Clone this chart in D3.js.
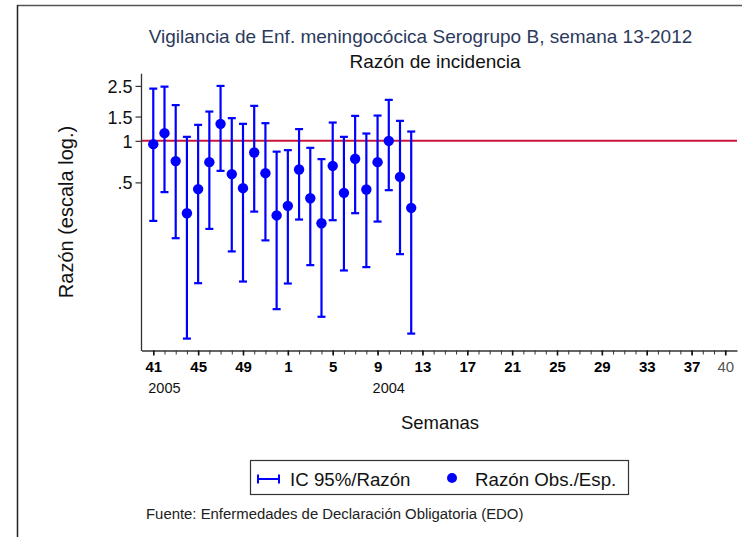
<!DOCTYPE html>
<html>
<head>
<meta charset="utf-8">
<script src="https://cdn.jsdelivr.net/npm/d3@7"></script>
<style>
  html, body { margin: 0; padding: 0; background: #fff; }
  svg { display: block; font-family: "Liberation Sans", Arial, Helvetica, sans-serif; }
</style>
</head>
<body>
<svg id="chart" width="742" height="537"></svg>
<script>
// ---- data ----
const weeks  = [41,42,43,44,45,46,47,48,49,50,51,52,1,2,3,4,5,6,7,8,9,10,11,12];
const ratio  = [0.946,1.137,0.713,0.299,0.447,0.701,1.328,0.574,0.454,0.823,0.583,0.288,
                0.338,0.620,0.384,0.253,0.659,0.420,0.741,0.444,0.701,1.000,0.548,0.327];
const lower  = [0.263,0.425,0.197,0.0369,0.093,0.230,0.606,0.158,0.0956,0.307,0.190,0.0603,
                0.0925,0.269,0.1257,0.0531,0.266,0.115,0.299,0.1216,0.260,0.439,0.151,0.0401];
const upper  = [2.39,2.47,1.815,1.069,1.306,1.63,2.50,1.46,1.328,1.793,1.343,0.835,
                0.856,1.216,0.890,0.737,1.357,1.069,1.517,1.13,1.525,1.982,1.396,1.168];
const axisWeeks = [41,42,43,44,45,46,47,48,49,50,51,52,1,2,3,4,5,6,7,8,9,10,11,12,13,14,15,16,17,18,19,20,
                   21,22,23,24,25,26,27,28,29,30,31,32,33,34,35,36,37,38,39,40];
const tickLabels = ["41","45","49","1","5","9","13","17","21","25","29","33","37","40"];
const yTicks = [0.5, 1, 1.5, 2.5];
const yTickLabels = [".5", "1", "1.5", "2.5"];
const yearLabels = [{week: 41, text: "2005"}, {week: 9, text: "2004"}];
const refValue = 1;

const title = "Vigilancia de Enf. meningocócica Serogrupo B, semana 13-2012";
const subtitle = "Razón de incidencia";
const yTitle = "Razón (escala log.)";
const xTitle = "Semanas";
const legendItems = ["IC 95%/Razón", "Razón Obs./Esp."];
const source = "Fuente: Enfermedades de Declaración Obligatoria (EDO)";

// ---- layout ----
const svg = d3.select("#chart");
const idxOf = w => axisWeeks.indexOf(w);

const x = d3.scaleLinear().domain([-1.05, axisWeeks.length - 1 + 1.05]).range([141.5, 737]);
const y = d3.scaleLog().domain([0.03, 3]).range([351, 75]);

// frame
svg.append("line").attr("x1", 17).attr("x2", 742).attr("y1", 5.5).attr("y2", 5.5)
  .attr("stroke", "#555").attr("stroke-width", 1.5);
svg.append("line").attr("x1", 17.5).attr("x2", 17.5).attr("y1", 5).attr("y2", 537)
  .attr("stroke", "#222").attr("stroke-width", 1.5);

// titles
svg.append("text").attr("x", 420.5).attr("y", 43).attr("text-anchor", "middle")
  .attr("font-size", 19).attr("fill", "#2b3a5c").text(title);
svg.append("text").attr("x", 435).attr("y", 67.5).attr("text-anchor", "middle")
  .attr("font-size", 19).attr("fill", "#111").text(subtitle);

// reference line
svg.append("line").attr("x1", 141.5).attr("x2", 737)
  .attr("y1", y(refValue)).attr("y2", y(refValue))
  .attr("stroke", "#c8143c").attr("stroke-width", 2);

// y axis
const yAxis = d3.axisLeft(y).tickValues(yTicks)
  .tickFormat((d, i) => yTickLabels[i]).tickSize(6).tickSizeOuter(0);
const gy = svg.append("g").attr("transform", "translate(141.5,0)").call(yAxis);
gy.select(".domain").attr("stroke", "#333").attr("stroke-width", 1.3).attr("d", `M0,${y(3.06)}V351`);
gy.selectAll(".tick line").attr("stroke", "#333").attr("stroke-width", 1.2);
gy.selectAll(".tick text").attr("font-size", 18).attr("fill", "#111")
  .attr("font-family", "Liberation Sans, Arial, sans-serif").attr("x", -9).attr("dy", "0.36em");

// x axis (minor ticks)
const xMinor = d3.axisBottom(x).tickValues(d3.range(axisWeeks.length)).tickFormat("").tickSize(4).tickSizeOuter(0);
const gx = svg.append("g").attr("transform", "translate(0,350.5)").call(xMinor);
gx.select(".domain").attr("stroke", "#333").attr("stroke-width", 1.3);
gx.selectAll(".tick line").attr("stroke", "#333").attr("stroke-width", 1);

// x axis (major labels)
const majorIdx = tickLabels.map(t => idxOf(+t));
const xMajor = d3.axisBottom(x).tickValues(majorIdx).tickFormat(d => String(axisWeeks[d])).tickSize(5).tickSizeOuter(0);
const gx2 = svg.append("g").attr("transform", "translate(0,350.5)").call(xMajor);
gx2.select(".domain").remove();
gx2.selectAll(".tick line").attr("stroke", "#111").attr("stroke-width", 1.6);
gx2.selectAll(".tick text").attr("font-size", 15).attr("font-weight", "bold").attr("fill", "#000")
  .attr("font-family", "Liberation Sans, Arial, sans-serif").attr("y", 11)
  .filter(d => d === axisWeeks.length - 1).attr("font-weight", "normal").attr("fill", "#555");

// year labels
svg.selectAll("text.year").data(yearLabels).enter().append("text")
  .attr("class", "year")
  .attr("x", d => x(idxOf(d.week)) - 5).attr("y", 393)
  .attr("font-size", 14.5).attr("fill", "#111").text(d => d.text);

// axis titles
svg.append("text").attr("x", 440).attr("y", 429).attr("text-anchor", "middle")
  .attr("font-size", 18.5).attr("fill", "#111").text(xTitle);
svg.append("text").attr("transform", "translate(73,212) rotate(-90)").attr("text-anchor", "middle")
  .attr("font-size", 20).attr("fill", "#111").text(yTitle);

// error bars
const blue = "#0000ff";
const cap = 4;
const eb = svg.append("g").attr("stroke", blue).attr("stroke-width", 2.2).attr("fill", "none");
weeks.forEach((w, i) => {
  const cx = x(idxOf(w));
  eb.append("line").attr("x1", cx).attr("x2", cx).attr("y1", y(lower[i])).attr("y2", y(upper[i]));
  eb.append("line").attr("x1", cx - cap).attr("x2", cx + cap).attr("y1", y(lower[i])).attr("y2", y(lower[i]));
  eb.append("line").attr("x1", cx - cap).attr("x2", cx + cap).attr("y1", y(upper[i])).attr("y2", y(upper[i]));
});
svg.append("g").selectAll("circle").data(weeks).enter().append("circle")
  .attr("cx", w => x(idxOf(w))).attr("cy", (w, i) => y(ratio[i])).attr("r", 5.2).attr("fill", blue);

// legend
const lg = svg.append("g");
lg.append("rect").attr("x", 250.5).attr("y", 460.5).attr("width", 378).attr("height", 34)
  .attr("fill", "#fff").attr("stroke", "#333").attr("stroke-width", 1.2);
lg.append("line").attr("x1", 258).attr("x2", 279).attr("y1", 479).attr("y2", 479).attr("stroke", blue).attr("stroke-width", 2);
lg.append("line").attr("x1", 258).attr("x2", 258).attr("y1", 474.5).attr("y2", 483.5).attr("stroke", blue).attr("stroke-width", 2);
lg.append("line").attr("x1", 279).attr("x2", 279).attr("y1", 474.5).attr("y2", 483.5).attr("stroke", blue).attr("stroke-width", 2);
lg.append("text").attr("x", 290).attr("y", 485.5).attr("font-size", 18.7).attr("fill", "#111").text(legendItems[0]);
lg.append("circle").attr("cx", 452).attr("cy", 478).attr("r", 5).attr("fill", blue);
lg.append("text").attr("x", 475).attr("y", 485.5).attr("font-size", 18.7).attr("fill", "#111").text(legendItems[1]);

// source
svg.append("text").attr("x", 146).attr("y", 518.5).attr("font-size", 14.9).attr("fill", "#222").text(source);
</script>
</body>
</html>
